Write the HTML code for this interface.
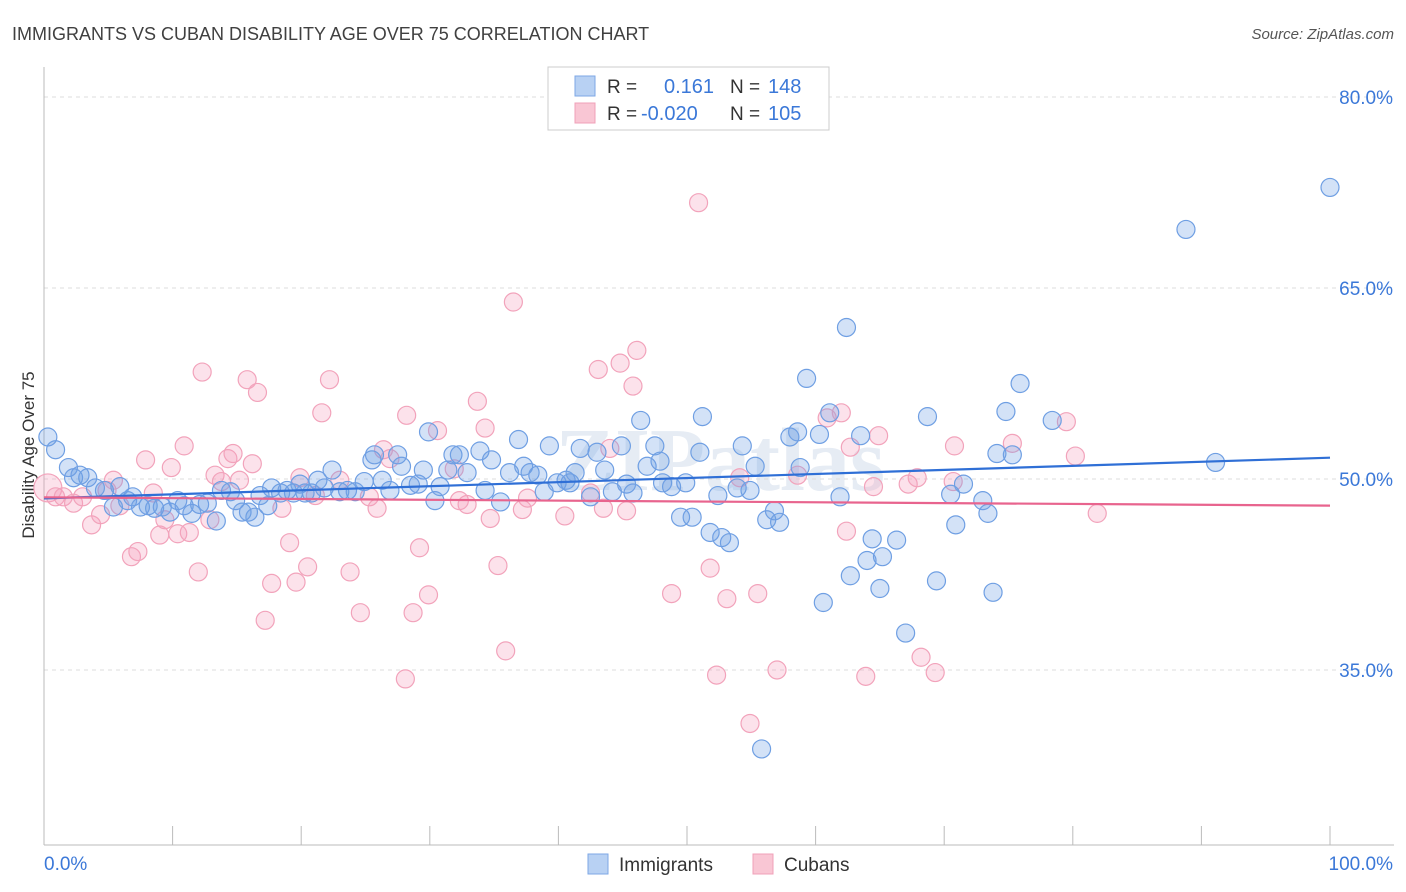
<!DOCTYPE html>
<html><head><meta charset="utf-8">
<style>
body{margin:0;background:#fff;font-family:"Liberation Sans",sans-serif;}
svg{display:block}
</style></head>
<body>
<svg id="chart" width="1406" height="892" viewBox="0 0 1406 892">
<text x="12" y="40" font-size="18" fill="#404040" font-family="Liberation Sans">IMMIGRANTS VS CUBAN DISABILITY AGE OVER 75 CORRELATION CHART</text>
<text x="1394" y="39" font-size="15" fill="#555" font-style="italic" text-anchor="end">Source: ZipAtlas.com</text>
<text transform="translate(34,455) rotate(-90)" font-size="17" fill="#333" text-anchor="middle">Disability Age Over 75</text>
<text x="720" y="490" font-size="90" fill="#e6ecf4" text-anchor="middle" font-weight="bold" font-family="Liberation Serif">ZIPatlas</text>
<g id="grid"></g>
<g id="axes"></g>
<g id="pts"></g>
<g id="trend"></g>
<g>
<rect x="548" y="67" width="281" height="63" fill="#fff" stroke="#ccc"/>
<rect x="575" y="76" width="20" height="20" fill="#b8d1f3" stroke="#7ea7e6"/>
<rect x="575" y="103" width="20" height="20" fill="#f9c6d4" stroke="#f0a0b8"/>
<text x="607" y="93" font-size="19" fill="#333">R =</text>
<text x="664" y="93" font-size="20" fill="#3b78d8">0.161</text>
<text x="730" y="93" font-size="19" fill="#333">N =</text>
<text x="768" y="93" font-size="20" fill="#3b78d8">148</text>
<text x="607" y="120" font-size="19" fill="#333">R =</text>
<text x="641" y="120" font-size="20" fill="#3b78d8">-0.020</text>
<text x="730" y="120" font-size="19" fill="#333">N =</text>
<text x="768" y="120" font-size="20" fill="#3b78d8">105</text>
</g>
<g>
<rect x="588" y="854" width="20" height="20" fill="#b8d1f3" stroke="#7ea7e6"/>
<text x="619" y="871" font-size="19" fill="#333">Immigrants</text>
<rect x="753" y="854" width="20" height="20" fill="#f9c6d4" stroke="#f0a0b8"/>
<text x="784" y="871" font-size="19" fill="#333">Cubans</text>
</g>
</svg>
<script>
const yTicks=[35,50,65,80];
const yTickLabels=["35.0%","50.0%","65.0%","80.0%"];
const xEndLabels=["0.0%","100.0%"];
const blueX=[0.3,0.9,1.9,2.3,3.4,2.8,4.0,4.7,5.4,5.9,6.5,6.9,7.5,8.1,8.6,9.2,9.8,10.4,10.9,11.5,12.1,12.7,13.4,13.8,14.5,14.9,15.4,15.9,16.4,16.8,17.4,17.7,18.4,18.9,19.4,19.9,20.3,20.8,21.3,21.8,22.4,23.0,23.6,24.2,24.9,25.5,25.7,26.3,26.9,27.5,27.8,28.5,29.1,29.5,29.9,30.4,30.8,31.4,31.8,32.3,32.9,33.9,34.3,34.8,35.5,36.2,36.9,37.3,37.8,38.4,38.9,39.3,39.9,40.6,40.9,41.3,41.7,42.5,43.0,43.6,44.2,44.9,45.3,45.8,46.4,46.9,47.5,47.9,48.1,48.8,49.5,49.9,50.4,51.0,51.2,51.8,52.4,52.7,53.3,53.9,54.3,54.9,55.3,55.8,56.2,56.8,57.2,58.0,58.6,58.8,59.3,60.3,60.6,61.1,61.9,62.4,62.7,63.5,64.0,64.4,65.0,65.2,66.3,67.0,68.7,69.4,70.5,70.9,71.5,73.0,73.4,73.8,74.1,74.8,75.3,75.9,78.4,88.8,91.1,100];
const blueY=[53.3,52.3,50.9,50.1,50.1,50.3,49.3,49.1,47.8,49.4,48.3,48.6,47.8,47.9,47.7,47.8,47.4,48.3,47.9,47.3,48.0,48.1,46.7,49.1,49.0,48.3,47.4,47.4,47.0,48.7,47.9,49.3,48.9,49.1,48.9,49.6,48.9,48.9,49.9,49.3,50.7,49.0,49.1,49.0,49.8,51.5,51.9,49.9,49.1,51.9,51.0,49.5,49.6,50.7,53.7,48.3,49.4,50.7,51.9,51.9,50.5,52.2,49.1,51.5,48.2,50.5,53.1,51.0,50.5,50.3,49.0,52.6,49.7,49.9,49.7,50.5,52.4,48.6,52.1,50.7,49.0,52.6,49.6,48.9,54.6,51.0,52.6,51.4,49.7,49.4,47.0,49.7,47.0,52.1,54.9,45.8,48.7,45.4,45.0,49.3,52.6,49.1,51.0,28.8,46.8,47.5,46.6,53.3,53.7,50.9,57.9,53.5,40.3,55.2,48.6,61.9,42.4,53.4,43.6,45.3,41.4,43.9,45.2,37.9,54.9,42.0,48.8,46.4,49.6,48.3,47.3,41.1,52.0,55.3,51.9,57.5,54.6,69.6,51.3,72.9];
const pinkX=[0.3,0.9,1.5,2.3,3.0,3.7,4.4,4.9,5.4,5.9,6.8,7.3,7.9,8.5,9.0,9.4,9.9,10.4,10.9,11.3,12.0,12.3,12.9,13.3,13.8,14.3,14.7,15.2,15.8,16.2,16.6,17.2,17.7,18.5,19.1,19.6,19.9,20.5,21.1,21.6,22.2,23.0,23.8,24.6,25.3,25.9,26.4,26.9,28.1,28.2,28.7,29.2,29.9,30.6,31.9,32.3,32.9,33.7,34.3,34.7,35.3,35.9,36.5,37.2,37.6,40.5,42.5,43.1,43.5,44.0,44.8,45.3,45.8,46.1,48.8,50.9,51.8,52.3,53.1,54.1,54.9,55.5,57.0,58.6,60.9,62.0,62.4,62.7,63.9,64.5,64.9,67.2,67.9,68.2,69.3,70.7,70.8,75.3,79.5,80.2,81.9];
const pinkY=[49.3,48.6,48.6,48.1,48.6,46.4,47.2,49.1,49.9,47.9,43.9,44.3,51.5,48.9,45.6,46.8,50.9,45.7,52.6,45.8,42.7,58.4,46.8,50.3,49.8,51.6,52.0,49.9,57.8,51.2,56.8,38.9,41.8,47.7,45.0,41.9,50.1,43.1,48.7,55.2,57.8,49.9,42.7,39.5,48.6,47.7,52.3,51.6,34.3,55.0,39.5,44.6,40.9,53.8,50.8,48.3,48.0,56.1,54.0,46.9,43.2,36.5,63.9,47.6,48.5,47.1,48.9,58.6,47.7,52.4,59.1,47.5,57.3,60.1,41.0,71.7,43.0,34.6,40.6,50.1,30.8,41.0,35.0,50.3,54.8,55.2,45.9,52.5,34.5,49.4,53.4,49.6,50.1,36.0,34.8,49.8,52.6,52.8,54.5,51.8,47.3];

const NS="http://www.w3.org/2000/svg";
const X0=44,X1=1330,Ybase=50,Ypx=479,Yscale=12.733;
function sx(v){return X0+(X1-X0)*v/100;}
function sy(v){return Ypx-(v-Ybase)*Yscale;}
function mk(tag,attrs,parent){const e=document.createElementNS(NS,tag);for(const k in attrs)e.setAttribute(k,attrs[k]);parent.appendChild(e);return e;}
const grid=document.getElementById('grid'),axes=document.getElementById('axes'),pts=document.getElementById('pts'),trend=document.getElementById('trend');
yTicks.forEach((t,i)=>{
  const l=mk('line',{x1:X0,x2:1394,y1:sy(t),y2:sy(t),stroke:'#ddd','stroke-dasharray':'4,4'},grid);
  
  
  const tx=mk('text',{x:1393,y:sy(t)+7,'font-size':19,fill:'#3b78d8','text-anchor':'end'},axes);
  tx.textContent=yTickLabels[i];
  
  
});
const ya=mk('line',{x1:X0,x2:X0,y1:67,y2:845,stroke:'#bbb'},axes);


const xa=mk('line',{x1:X0,x2:1394,y1:845,y2:845,stroke:'#bbb'},axes);


for(let i=0;i<=10;i++){
  const t=mk('line',{x1:sx(i*10),x2:sx(i*10),y1:826,y2:845,stroke:'#bbb'},axes);
  
  
}
const xl0=mk('text',{x:44,y:870,'font-size':19,fill:'#3b78d8'},axes);xl0.textContent=xEndLabels[0];


const xl1=mk('text',{x:1393,y:870,'font-size':19,fill:'#3b78d8','text-anchor':'end'},axes);xl1.textContent=xEndLabels[1];



function drawPts(xs,ys,fill,stroke,name){
  xs.forEach((x,i)=>{
    const c=mk('circle',{cx:sx(x),cy:sy(ys[i]),r:(name==='cubans-point'&&i===0)?14:9,fill:fill,stroke:stroke,'stroke-width':1.2},pts);
    
    
  });
}
drawPts(pinkX,pinkY,'rgba(244,160,188,0.3)','#f2a3bb','cubans-point');
drawPts(blueX,blueY,'rgba(110,160,230,0.3)','#6f9fe3','immigrants-point');

function fit(xs,ys){const n=xs.length;let mx=0,my=0;for(let i=0;i<n;i++){mx+=xs[i];my+=ys[i];}mx/=n;my/=n;let sxy=0,sxx=0;for(let i=0;i<n;i++){sxy+=(xs[i]-mx)*(ys[i]-my);sxx+=(xs[i]-mx)**2;}const b=sxy/sxx;return [my-b*mx,b];}
function drawTrend(xs,ys,color,name){const [a,b]=fit(xs,ys);const l=mk('line',{x1:sx(0),y1:sy(a),x2:sx(100),y2:sy(a+b*100),stroke:color,'stroke-width':2.2},trend);

}
drawTrend(blueX,blueY,'#2f6fd6','immigrants-trend-line');
drawTrend(pinkX,pinkY,'#e8648e','cubans-trend-line');
</script>
</body></html>
